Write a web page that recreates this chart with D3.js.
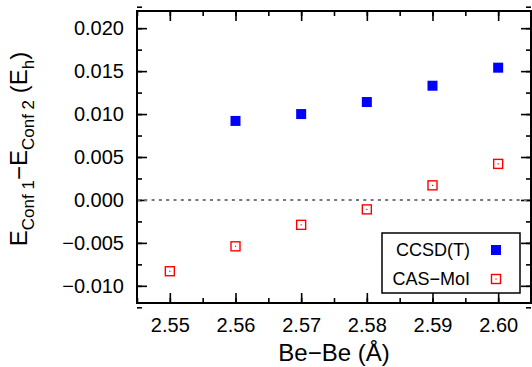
<!DOCTYPE html>
<html>
<head>
<meta charset="utf-8">
<script src="https://cdn.jsdelivr.net/npm/d3@7"></script>
<style>
  body { margin: 0; background: #fff; }
  text { font-family: "Liberation Sans", Arial, sans-serif; fill: #000; }
</style>
</head>
<body>
<svg id="chart" width="532" height="367"></svg>
<script>
// values
var ccsdBond = [2.56, 2.57, 2.58, 2.59, 2.60]
var ccsdDiff = [0.0092, 0.0100, 0.0114, 0.0133, 0.0154]
var casBond = [2.55, 2.56, 2.57, 2.58, 2.59, 2.60]
var casDiff = [-0.0083, -0.0054, -0.0029, -0.0011, 0.0017, 0.0042]
var xTicks = [2.55, 2.56, 2.57, 2.58, 2.59, 2.60]
var yTicks = [-0.010, -0.005, 0.000, 0.005, 0.010, 0.015, 0.020]

var svg = d3.select("#chart"),
    margin = {top: 11, left: 137, bottom: 64, right: 1},
    W = +svg.attr("width"), H = +svg.attr("height")

var x = d3.scaleLinear().domain([2.545, 2.605]).range([margin.left, W - margin.right])
var y = d3.scaleLinear().domain([-0.012, 0.022]).range([H - margin.bottom, margin.top])

var xMinor = d3.range(2.545, 2.6051, 0.005)
var yMinor = d3.range(-0.0125, 0.02251, 0.0025)

function styleAxis(g) {
  g.select(".domain").remove()
  g.selectAll("line").attr("stroke", "#000").attr("stroke-width", 1.6)
  g.selectAll("text").style("font-size", "20px").style("font-family", "Liberation Sans, Arial, sans-serif")
}

var fmt = d => d3.format(".3f")(d).replace("-", "\u2212")

// left
svg.append("g").attr("transform", `translate(${x.range()[0]},0)`)
  .call(d3.axisLeft(y).tickValues(yMinor).tickSize(-5).tickFormat("")).call(styleAxis)
svg.append("g").attr("transform", `translate(${x.range()[0]},0)`)
  .call(d3.axisLeft(y).tickValues(yTicks).tickSize(-10).tickPadding(13).tickFormat(fmt)).call(styleAxis)
// right
svg.append("g").attr("transform", `translate(${x.range()[1]},0)`)
  .call(d3.axisRight(y).tickValues(yMinor).tickSize(-5).tickFormat("")).call(styleAxis)
svg.append("g").attr("transform", `translate(${x.range()[1]},0)`)
  .call(d3.axisRight(y).tickValues(yTicks).tickSize(-10).tickFormat("")).call(styleAxis)
// bottom
svg.append("g").attr("transform", `translate(0,${y.range()[0]})`)
  .call(d3.axisBottom(x).tickValues(xMinor).tickSize(-5).tickFormat("")).call(styleAxis)
svg.append("g").attr("transform", `translate(0,${y.range()[0]})`)
  .call(d3.axisBottom(x).tickValues(xTicks).tickSize(-10).tickPadding(15).tickFormat(d3.format(".2f"))).call(styleAxis)
// top
svg.append("g").attr("transform", `translate(0,${y.range()[1]})`)
  .call(d3.axisTop(x).tickValues(xMinor).tickSize(-5).tickFormat("")).call(styleAxis)
svg.append("g").attr("transform", `translate(0,${y.range()[1]})`)
  .call(d3.axisTop(x).tickValues(xTicks).tickSize(-10).tickFormat("")).call(styleAxis)

// zero line
svg.append("line")
  .attr("x1", x.range()[0]).attr("x2", x.range()[1])
  .attr("y1", y(0)).attr("y2", y(0))
  .attr("stroke", "#777").attr("stroke-width", 2).attr("stroke-dasharray", "3,4.3")

// frame
svg.append("rect")
  .attr("x", x.range()[0]).attr("y", y.range()[1])
  .attr("width", x.range()[1] - x.range()[0]).attr("height", y.range()[0] - y.range()[1])
  .attr("fill", "none").attr("stroke", "#000").attr("stroke-width", 2)

// CCSD(T) points
svg.selectAll(".ccsd").data(ccsdBond).enter().append("rect")
  .attr("class", "ccsd")
  .attr("x", (d, i) => x(d) - 5).attr("y", (d, i) => y(ccsdDiff[i]) - 5)
  .attr("width", 10).attr("height", 10).attr("fill", "#0000ff")

// CAS-MoI points
function casMark(g) {
  g.append("rect").attr("x", -4.5).attr("y", -4.5).attr("width", 9).attr("height", 9)
    .attr("fill", "none").attr("stroke", "#ff0000").attr("stroke-width", 1.4)
  g.append("rect").attr("x", -0.6).attr("y", -0.6).attr("width", 1.2).attr("height", 1.2).attr("fill", "#ff0000")
}
svg.selectAll(".cas").data(casBond).enter().append("g")
  .attr("class", "cas")
  .attr("transform", (d, i) => `translate(${x(d)},${y(casDiff[i])})`)
  .each(function() { casMark(d3.select(this)) })

// legend
var lg = svg.append("g")
lg.append("rect").attr("x", 382).attr("y", 233).attr("width", 138).attr("height", 60)
  .attr("fill", "#fff").attr("stroke", "#000").attr("stroke-width", 1.5)
lg.append("text").attr("x", 470).attr("y", 250).attr("dy", "0.35em").attr("text-anchor", "end")
  .style("font-size", "18px").text("CCSD(T)")
lg.append("rect").attr("x", 491).attr("y", 245).attr("width", 10).attr("height", 10).attr("fill", "#0000ff")
lg.append("text").attr("x", 470).attr("y", 279).attr("dy", "0.35em").attr("text-anchor", "end")
  .style("font-size", "18px").text("CAS\u2212MoI")
lg.append("g").attr("transform", "translate(496,279)").call(casMark)

// axis titles
svg.append("text").attr("x", (x.range()[0] + x.range()[1]) / 2).attr("y", 361)
  .attr("text-anchor", "middle").style("font-size", "24px").text("Be\u2212Be (\u00c5)")

var yl = svg.append("text").attr("transform", "translate(27,149) rotate(-90)")
  .attr("text-anchor", "middle").style("font-size", "24px")
yl.append("tspan").text("E")
yl.append("tspan").attr("dy", 7).style("font-size", "17px").text("Conf 1")
yl.append("tspan").attr("dy", -7).text("\u2212E")
yl.append("tspan").attr("dy", 7).style("font-size", "17px").text("Conf 2")
yl.append("tspan").attr("dy", -7).text(" (E")
yl.append("tspan").attr("dy", 7).style("font-size", "17px").text("h")
yl.append("tspan").attr("dy", -7).text(")")
</script>
</body>
</html>
